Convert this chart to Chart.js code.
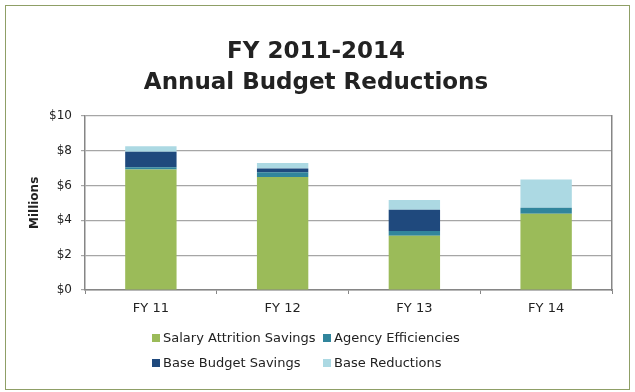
<!DOCTYPE html>
<html lang="en">
<head>
    <meta charset="UTF-8">
    <title>FY 2011-2014 Annual Budget Reductions</title>
    <script src="https://cdn.jsdelivr.net/npm/chart.js"></script>
    <style>
        body { margin: 0; background: #fff; }
        #wrap { position: relative; width: 635px; height: 392px; }
        #frame { position: absolute; left: 5px; top: 5px; width: 623px; height: 383px; border: 1px solid #8f9f66; }
        #budget-chart { position: absolute; left: 0; top: 0; }
        #legend { position: absolute; left: 152px; top: 330px; font: 13px "DejaVu Sans", sans-serif; color: #222; }
        .item { position: absolute; white-space: nowrap; }
        .item span { display: inline-block; width: 8px; height: 8px; margin-right: 3px; vertical-align: 0px; }
    </style>
</head>
<body>
    <div id="wrap">
        <div id="frame"></div>
        <canvas id="budget-chart" width="635" height="392"></canvas>
        <div id="legend"></div>
    </div>

    <script>
        const years = ['FY 11', 'FY 12', 'FY 13', 'FY 14'];
        const salaryAttrition = [6.92, 6.49, 3.11, 4.37];
        const agencyEfficiencies = [0.13, 0.27, 0.27, 0.35];
        const baseBudgetSavings = [0.88, 0.21, 1.22, 0];
        const baseReductions = [0.32, 0.31, 0.57, 1.62];
        const yTicks = [0, 2, 4, 6, 8, 10];

        const series = [
            { label: 'Salary Attrition Savings', data: salaryAttrition, color: '#9bbb59' },
            { label: 'Agency Efficiencies', data: agencyEfficiencies, color: '#31859c' },
            { label: 'Base Budget Savings', data: baseBudgetSavings, color: '#1f497d' },
            { label: 'Base Reductions', data: baseReductions, color: '#acd9e3' }
        ];

        // legend laid out as a 2x2 grid like the original
        const legendPos = [[0, 0], [171, 0], [0, 25], [171, 25]];
        const legend = document.getElementById('legend');
        series.forEach((s, i) => {
            const el = document.createElement('div');
            el.className = 'item';
            el.style.left = legendPos[i][0] + 'px';
            el.style.top = legendPos[i][1] + 'px';
            el.innerHTML = '<span style="background:' + s.color + '"></span>' + s.label;
            legend.appendChild(el);
        });

        const ctx = document.getElementById('budget-chart').getContext('2d');
        new Chart(ctx, {
            type: 'bar',
            data: {
                labels: years,
                datasets: series.map(s => ({
                    label: s.label,
                    data: s.data,
                    backgroundColor: s.color,
                    borderWidth: 0,
                    barPercentage: 0.39,
                    categoryPercentage: 1
                }))
            },
            options: {
                responsive: false,
                animation: false,
                layout: { padding: { top: 37, left: 20, right: 23, bottom: 72 } },
                plugins: {
                    legend: { display: false },
                    tooltip: { enabled: false },
                    title: {
                        display: true,
                        text: ['FY 2011-2014', 'Annual Budget Reductions'],
                        color: '#222',
                        font: { family: 'DejaVu Sans', size: 23, weight: 'bold', lineHeight: 1.32 },
                        padding: { top: 0, bottom: 18 }
                    }
                },
                scales: {
                    x: {
                        stacked: true,
                        grid: { offset: true, drawOnChartArea: false, tickLength: 4, color: '#868686' },
                        border: { color: '#868686', width: 1.5 },
                        ticks: { color: '#222', font: { family: 'DejaVu Sans', size: 13 }, padding: 7 },
                        afterFit: axis => { axis.height = 30; }
                    },
                    y: {
                        stacked: true,
                        min: 0,
                        max: 10,
                        afterBuildTicks: axis => { axis.ticks = yTicks.map(v => ({ value: v })); },
                        grid: { color: '#a6a6a6', lineWidth: 1.2, tickLength: 4 },
                        border: { color: '#868686', width: 1.5 },
                        ticks: {
                            color: '#222',
                            font: { family: 'DejaVu Sans', size: 12 },
                            padding: 9,
                            callback: v => '$' + v
                        },
                        title: {
                            display: true,
                            text: 'Millions',
                            color: '#222',
                            font: { family: 'DejaVu Sans', size: 12, weight: 'bold' },
                            padding: { top: 8, bottom: 0 }
                        },
                        afterFit: axis => { axis.width = 65; }
                    },
                    y2: {
                        position: 'right',
                        min: 0,
                        max: 10,
                        grid: { drawOnChartArea: false, drawTicks: false },
                        border: { color: '#868686', width: 1.5 },
                        ticks: { display: false },
                        afterFit: axis => { axis.width = 0; }
                    }
                }
            }
        });
    </script>
</body>
</html>
